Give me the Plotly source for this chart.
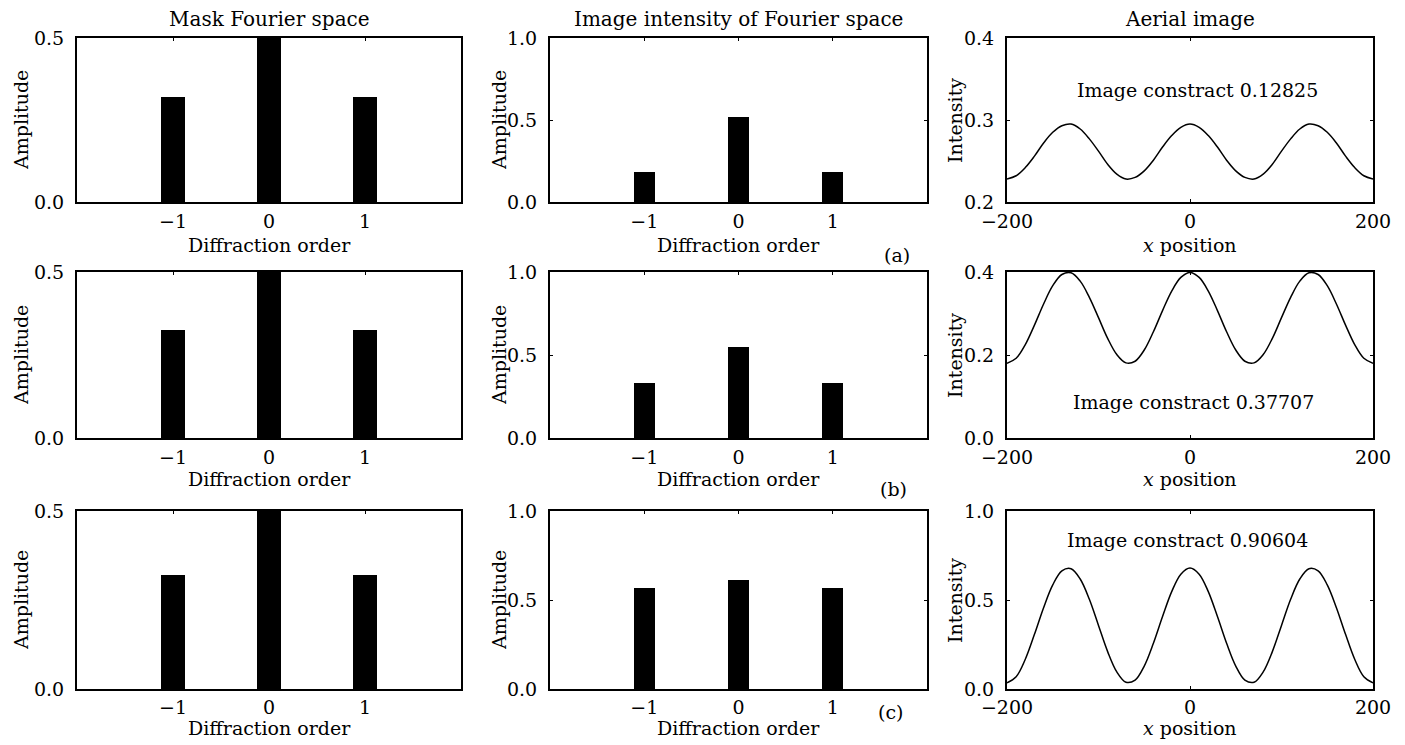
import plotly.graph_objects as go
from plotly.subplots import make_subplots

# ---------------- data ----------------
orders = [-1, 0, 1]
mask_amp_a = [0.32, 0.50, 0.32]
mask_amp_b = [0.325, 0.50, 0.325]
mask_amp_c = [0.32, 0.50, 0.32]

img_amp_a = [0.18, 0.52, 0.18]
img_amp_b = [0.33, 0.55, 0.33]
img_amp_c = [0.57, 0.61, 0.57]

x_pos = list(range(-200, 201, 10))
intensity_a = [0.228, 0.232, 0.242, 0.256, 0.272, 0.285, 0.293, 0.295, 0.289, 0.277,
               0.262, 0.246, 0.234, 0.228, 0.230, 0.238, 0.251, 0.267, 0.281, 0.291,
               0.295, 0.291, 0.281, 0.267, 0.251, 0.238, 0.230, 0.228, 0.234, 0.246,
               0.262, 0.277, 0.289, 0.295, 0.293, 0.285, 0.272, 0.256, 0.242, 0.232, 0.228]
intensity_b = [0.180, 0.192, 0.225, 0.272, 0.323, 0.367, 0.394, 0.398, 0.378, 0.339,
               0.290, 0.240, 0.201, 0.181, 0.185, 0.212, 0.256, 0.307, 0.354, 0.387,
               0.399, 0.387, 0.354, 0.307, 0.256, 0.212, 0.185, 0.181, 0.201, 0.240,
               0.290, 0.339, 0.378, 0.398, 0.394, 0.367, 0.323, 0.272, 0.225, 0.192, 0.180]
intensity_c = [0.034, 0.069, 0.167, 0.307, 0.457, 0.585, 0.664, 0.676, 0.618, 0.504,
               0.357, 0.210, 0.096, 0.038, 0.050, 0.129, 0.257, 0.407, 0.547, 0.645,
               0.680, 0.645, 0.547, 0.407, 0.257, 0.129, 0.050, 0.038, 0.096, 0.210,
               0.357, 0.504, 0.618, 0.676, 0.664, 0.585, 0.457, 0.307, 0.167, 0.069, 0.034]

col_titles = ["Mask Fourier space", "Image intensity of Fourier space", "Aerial image"]
contrast_labels = ["Image constract 0.12825", "Image constract 0.37707", "Image constract 0.90604"]
panel_labels = ["(a)", "(b)", "(c)"]

# ---------------- layout geometry (pixels in the 1405x745 page) ----------------
OFF = 8                       # default page margin around the plot div
W, H = 1405 - OFF, 745 - OFF  # figure size so that it fills the window
FONT = "DejaVu Serif"
FS = 19
col_px = [(77, 461), (550, 927), (1007, 1373)]
row_px = [(38, 202), (272, 438), (511, 689)]


def px(x):
    return (x - OFF) / W


def py(y):
    return 1 - (y - OFF) / H


fig = make_subplots(rows=3, cols=3)

mask_sets = [mask_amp_a, mask_amp_b, mask_amp_c]
img_sets = [img_amp_a, img_amp_b, img_amp_c]
int_sets = [intensity_a, intensity_b, intensity_c]

for r in range(3):
    fig.add_trace(go.Bar(x=orders, y=mask_sets[r], width=0.24, marker=dict(color="black", line=dict(width=0)),
                         showlegend=False), row=r + 1, col=1)
    fig.add_trace(go.Bar(x=orders, y=img_sets[r], width=0.22, marker=dict(color="black", line=dict(width=0)),
                         showlegend=False), row=r + 1, col=2)
    fig.add_trace(go.Scatter(x=x_pos, y=int_sets[r], mode="lines",
                             line=dict(color="black", width=1.5, shape="spline"),
                             showlegend=False), row=r + 1, col=3)

axis_common = dict(showline=True, linecolor="black", linewidth=2, mirror="ticks", ticks="inside",
                   ticklen=3, tickcolor="black", showgrid=False, zeroline=False, automargin=False,
                   tickfont=dict(family=FONT, size=FS, color="black"))

aerial_ranges = [([0.2, 0.4], [0.2, 0.3, 0.4]), ([0, 0.4], [0.0, 0.2, 0.4]), ([0, 1.0], [0.0, 0.5, 1.0])]
x_standoff = [1, 1, 0]

for r in range(3):
    for c in range(3):
        idx = r * 3 + c + 1
        xa = "xaxis" if idx == 1 else f"xaxis{idx}"
        ya = "yaxis" if idx == 1 else f"yaxis{idx}"
        xd = [px(col_px[c][0]), px(col_px[c][1])]
        yd = [py(row_px[r][1]), py(row_px[r][0])]
        if c < 2:
            xcfg = dict(domain=xd, range=[-2, 2], tickvals=[-1, 0, 1], ticktext=["\u22121", "0", "1"],
                        ticklabelstandoff=x_standoff[r], **axis_common)
            if c == 0:
                ycfg = dict(domain=yd, range=[0, 0.5], tickvals=[0, 0.5], tickformat=".1f",
                            ticklabelstandoff=7, **axis_common)
            else:
                ycfg = dict(domain=yd, range=[0, 1.0], tickvals=[0, 0.5, 1.0], tickformat=".1f",
                            ticklabelstandoff=7, **axis_common)
        else:
            xcfg = dict(domain=xd, range=[-200, 200], tickvals=[-200, 0, 200],
                        ticktext=["\u2212200", "0", "200"], ticklabelstandoff=x_standoff[r], **axis_common)
            rng, tv = aerial_ranges[r]
            ycfg = dict(domain=yd, range=rng, tickvals=tv, tickformat=".1f",
                        ticklabelstandoff=7, **axis_common)
        fig.layout[xa].update(xcfg)
        fig.layout[ya].update(ycfg)

annotations = []


def add_text(text, x, y, angle=0, size=FS):
    annotations.append(dict(text=text, x=px(x), y=py(y), xref="paper", yref="paper",
                            showarrow=False, xanchor="center", yanchor="middle", textangle=angle,
                            font=dict(family=FONT, size=size, color="black")))


col_centers = [(a + b) / 2 for a, b in col_px]
for c in range(3):
    add_text(col_titles[c], col_centers[c], 19, size=20)

xtitle_y = [245, 479, 728]
for r in range(3):
    add_text("Diffraction order", col_centers[0], xtitle_y[r])
    add_text("Diffraction order", col_centers[1], xtitle_y[r])
    add_text("<i>x</i> position", col_centers[2], xtitle_y[r])
    rc = (row_px[r][0] + row_px[r][1]) / 2
    add_text("Amplitude", 21, rc, angle=-90)
    add_text("Amplitude", 499, rc, angle=-90)
    add_text("Intensity", 955, rc, angle=-90)

add_text(contrast_labels[0], 1197, 90)
add_text(contrast_labels[1], 1193, 402)
add_text(contrast_labels[2], 1187, 540)

add_text(panel_labels[0], 897, 255)
add_text(panel_labels[1], 893, 489)
add_text(panel_labels[2], 890, 712)

fig.update_layout(width=W, height=H, margin=dict(l=0, r=0, t=0, b=0, autoexpand=False),
                  paper_bgcolor="white", plot_bgcolor="white", showlegend=False,
                  bargap=0, annotations=annotations,
                  font=dict(family=FONT, size=FS, color="black"))

fig.write_html("out.html")
